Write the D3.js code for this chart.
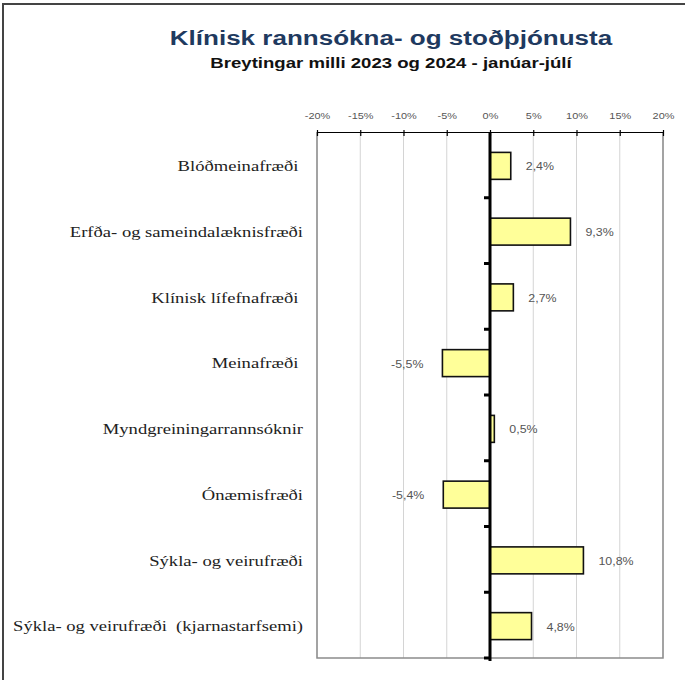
<!DOCTYPE html>
<html>
<head>
<meta charset="utf-8">
<script src="https://cdn.jsdelivr.net/npm/d3@7/dist/d3.min.js"></script>
<style>
  html, body { margin: 0; padding: 0; background: #fff; }
  svg { display: block; }
</style>
</head>
<body>
<div id="chart"></div>
<script>
// Deildir og breyting milli ára (%)
const categories = [
  "Blóðmeinafræði ",
  "Erfða- og sameindalæknisfræði",
  "Klínisk lífefnafræði ",
  "Meinafræði ",
  "Myndgreiningarrannsóknir",
  "Ónæmisfræði",
  "Sýkla- og veirufræði",
  "Sýkla- og veirufræði  (kjarnastarfsemi)"
];
const changes = [2.4, 9.3, 2.7, -5.5, 0.5, -5.4, 10.8, 4.8];
const tickValues = [-20, -15, -10, -5, 0, 5, 10, 15, 20];
const tickLabels = ["-20%", "-15%", "-10%", "-5%", "0%", "5%", "10%", "15%", "20%"];

const title = "Klínisk rannsókna- og stoðþjónusta";
const subtitle = "Breytingar milli 2023 og 2024 - janúar-júlí";

const W = 685, H = 680;
const plot = { left: 317, right: 663, top: 132, bottom: 658 };
const stretch = 1.24;   // text is drawn slightly wide
const sans = "Arial, 'Liberation Sans', sans-serif";
const serif = "'Liberation Serif', 'Times New Roman', serif";

const svg = d3.select("#chart").append("svg")
  .attr("width", W).attr("height", H);

// outer frame
svg.append("rect")
  .attr("x", 3).attr("y", 4)
  .attr("width", W + 10).attr("height", H + 10)
  .attr("fill", "none").attr("stroke", "#444").attr("stroke-width", 2);

// stretched text helper
function wideText(g, px, py, str, anchor) {
  return g.append("text")
    .attr("xml:space", "preserve")
    .attr("transform", `translate(${px},${py}) scale(${stretch},1)`)
    .attr("text-anchor", anchor)
    .text(str);
}

// titles
wideText(svg, 391, 45, title, "middle")
  .attr("font-family", sans)
  .attr("font-weight", "bold").attr("font-size", 21)
  .attr("fill", "#1f3a5f");

wideText(svg, 391, 68, subtitle, "middle")
  .attr("font-family", sans)
  .attr("font-weight", "bold").attr("font-size", 15)
  .attr("fill", "#111");

const x = d3.scaleLinear().domain([-20, 20]).range([plot.left, plot.right]);
const y = d3.scaleBand().domain(categories).range([plot.top, plot.bottom]).padding(0);

// gridlines
svg.append("g")
  .selectAll("line")
  .data(tickValues)
  .join("line")
  .attr("x1", d => x(d)).attr("x2", d => x(d))
  .attr("y1", plot.top).attr("y2", plot.bottom)
  .attr("stroke", "#d4d4d4").attr("stroke-width", 1);

// plot area border (left, right, bottom)
svg.append("path")
  .attr("d", `M${plot.left},${plot.top}V${plot.bottom}H${plot.right}V${plot.top}`)
  .attr("fill", "none").attr("stroke", "#8c8c8c").attr("stroke-width", 1.5);

// top value axis
const xAxis = d3.axisTop(x)
  .tickValues(tickValues)
  .tickFormat((d, i) => tickLabels[i])
  .tickSizeInner(-4).tickSizeOuter(0).tickPadding(13);

const gx = svg.append("g")
  .attr("transform", `translate(0,${plot.top})`)
  .call(xAxis);
gx.select(".domain").attr("stroke", "#000").attr("stroke-width", 1.2);
gx.selectAll(".tick line").attr("stroke", "#000").attr("stroke-width", 1.2)
  .attr("y1", -2).attr("y2", 4);
gx.selectAll(".tick text")
  .attr("font-family", sans)
  .attr("font-size", 9.5).attr("fill", "#555")
  .attr("transform", `scale(1.15,1)`)
  .attr("x", 0)
  .attr("text-anchor", "middle");

// bars
const barH = y.bandwidth() * 0.41;
svg.append("g")
  .selectAll("rect")
  .data(changes)
  .join("rect")
  .attr("x", d => x(Math.min(0, d)))
  .attr("y", (d, i) => y(categories[i]) + y.bandwidth() / 2 - barH / 2 + 1)
  .attr("width", d => Math.abs(x(d) - x(0)))
  .attr("height", barH)
  .attr("fill", "#ffff99")
  .attr("stroke", "#111").attr("stroke-width", 1.6);

// category axis at zero
const yAxis = d3.axisLeft(y).tickSize(0).tickFormat("");
svg.append("g")
  .attr("transform", `translate(${x(0)},0)`)
  .call(yAxis)
  .select(".domain").attr("stroke", "#000").attr("stroke-width", 3)
  .attr("d", `M0,${plot.top}V${plot.bottom + 3}`);

// tick marks between categories
const bounds = categories.map(c => y(c) + y.bandwidth());
svg.append("g")
  .selectAll("line")
  .data(bounds)
  .join("line")
  .attr("x1", x(0) - 6).attr("x2", x(0))
  .attr("y1", d => d).attr("y2", d => d)
  .attr("stroke", "#000").attr("stroke-width", 3);

// category labels
const catG = svg.append("g")
  .attr("font-family", serif)
  .attr("font-size", 15)
  .attr("fill", "#222");
categories.forEach(c => {
  wideText(catG, 303, y(c) + y.bandwidth() / 2 + 1, c, "end")
    .attr("dy", "0.35em");
});

// value labels
const valG = svg.append("g")
  .attr("font-family", sans)
  .attr("font-size", 10)
  .attr("fill", "#555");
changes.forEach((d, i) => {
  const px = d >= 0 ? x(d) + 15 : x(d) - 19;
  wideText(valG, px, y(categories[i]) + y.bandwidth() / 2 + 2,
           d.toFixed(1).replace(".", ",") + "%", d >= 0 ? "start" : "end")
    .attr("dy", "0.35em");
});
</script>
</body>
</html>
